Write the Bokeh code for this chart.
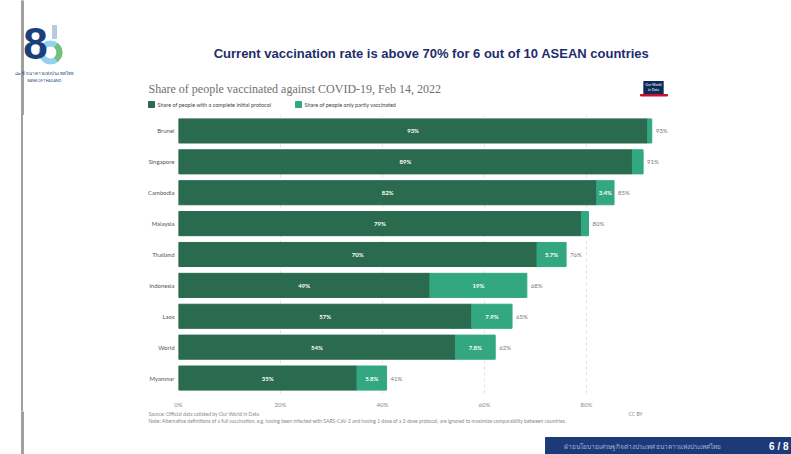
from bokeh.plotting import figure
from bokeh.layouts import column, row
from bokeh.models import (ColumnDataSource, FactorRange, Range1d, Label, Div,
                          PrintfTickFormatter, FixedTicker)
from bokeh.embed import file_html
from bokeh.resources import INLINE
from bokeh.core.properties import value

# ---------------- data ----------------
countries = ["Brunei", "Singapore", "Cambodia", "Malaysia", "Thailand",
             "Indonesia", "Laos", "World", "Myanmar"]
complete = [92.0, 89.0, 82.0, 79.0, 70.3, 49.3, 57.5, 54.3, 35.0]
partly = [0.8, 2.1, 3.4, 1.4, 5.7, 19.0, 7.9, 7.8, 5.8]
complete_labels = ["93%", "89%", "82%", "79%", "70%", "49%", "57%", "54%", "35%"]
partly_labels = ["", "", "3.4%", "", "5.7%", "19%", "7.9%", "7.8%", "5.8%"]
total_labels = ["93%", "91%", "85%", "80%", "76%", "68%", "65%", "62%", "41%"]
x_ticks = [0, 20, 40, 60, 80]

DARK = "#2a6a4f"
LIGHT = "#33a880"
LINE_GREY = "#a0a0a0"

# ---------------- geometry (canvas px) ----------------
W, H = 791, 454
HEAD_H = 115          # header strip height
FOOT_TOP = 411        # footer strip starts here
LEFT_W = 120          # left strip width beside the chart
FL, FR, FB = 178, 688, 393


def blank(width, height, x0, x1, y0, y1):
    f = figure(width=width, height=height, output_backend="svg",
               toolbar_location=None, x_axis_location=None, y_axis_location=None,
               x_range=Range1d(x0, x1), y_range=Range1d(y1, y0),
               min_border=0)
    f.outline_line_color = None
    f.grid.visible = False
    f.background_fill_color = "white"
    f.border_fill_color = "white"
    return f


def lab(f, text, cx, cy, size, color, font="Lato", style="normal",
        align="left", baseline="middle", **kw):
    f.add_layout(Label(x=cx, y=cy, text=text, text_font_size=size,
                       text_color=color, text_font=font, text_font_style=style,
                       text_align=align, text_baseline=baseline, **kw))


# ---------------- header ----------------
head = blank(W, HEAD_H, 0, W, 0, HEAD_H)
head.quad(left=[21], right=[23], top=[-50], bottom=[HEAD_H + 50], color=LINE_GREY)

# logo (Bank of Thailand, 80 years)
head.annulus(x=[50], y=[52], inner_radius=6.5, outer_radius=11.5,
             color="#8fcdee", alpha=0.95)
head.annular_wedge(x=[50], y=[52], inner_radius=6.5, outer_radius=11.5,
                   start_angle=-0.9, end_angle=0.9, color="#6fbf73", alpha=0.9)
lab(head, "8", 35, 43, "44px", "#1b3f78", font="Liberation Sans", style="bold",
    align="center")
head.quad(left=[52], right=[56], top=[25], bottom=[38], color="#a9bfdb", alpha=0.8)
lab(head, "๘๐ ปี ธนาคารแห่งประเทศไทย", 44, 73, "4.5px", "#1b3f78", align="center")
lab(head, "BANK OF THAILAND", 44, 80, "3.5px", "#1b3f78", align="center")

lab(head, "Current vaccination rate is above 70% for 6 out of 10 ASEAN countries",
    431, 53, "13px", "#1f2d6b", font="Liberation Sans", style="bold",
    align="center")

lab(head, "Share of people vaccinated against COVID-19, Feb 14, 2022", 148, 88,
    "12px", "#707070", font="Liberation Serif")

lab(head, "Our World\nin Data", 653, 87, "3.5px", "white", align="center",
    background_fill_color="#0b2a55", padding=2)
head.quad(left=[640], right=[667], top=[94], bottom=[95.5], color="#c8102e")

# legend
head.quad(left=[148, 295], right=[154, 301], top=[101, 101], bottom=[107, 107],
          color=[DARK, LIGHT])
lab(head, "Share of people with a complete initial protocol", 157, 104, "5.5px",
    "#444444")
lab(head, "Share of people only partly vaccinated", 304, 104, "5.5px", "#444444")

# ---------------- left strip (slide border line) ----------------
mid_h = FOOT_TOP - HEAD_H
left = Div(width=LEFT_W, height=mid_h,
           text=('<div style="position:absolute;left:21px;top:0;width:2px;'
                 f'height:{mid_h}px;background:{LINE_GREY}"></div>'),
           styles={"position": "relative", "margin": "0", "padding": "0"})

# ---------------- chart ----------------
src = ColumnDataSource(dict(
    country=countries,
    complete=complete,
    partly=partly,
    total=[c + q for c, q in zip(complete, partly)],
    mid_c=[c / 2 for c in complete],
    mid_p=[c + q / 2 for c, q in zip(complete, partly)],
    lab_c=complete_labels,
    lab_p=partly_labels,
    lab_t=total_labels,
))

p = figure(width=W - LEFT_W, height=mid_h, output_backend="svg",
           toolbar_location=None,
           x_range=(0, 100), y_range=FactorRange(factors=list(reversed(countries))),
           min_border_left=FL - LEFT_W, min_border_right=W - FR,
           min_border_top=0, min_border_bottom=FOOT_TOP - FB)
p.y_range.range_padding = 0
p.outline_line_color = None
p.background_fill_color = "white"
p.border_fill_color = "white"

p.hbar(y="country", left=0, right="complete", height=0.78, color=DARK, source=src)
p.hbar(y="country", left="complete", right="total", height=0.78, color=LIGHT,
       source=src)

p.text(x="mid_c", y="country", text="lab_c", source=src, text_color="white",
       text_font_size="6px", text_align="center", text_baseline="middle",
       text_font=value("Lato"), text_font_style="bold")
p.text(x="mid_p", y="country", text="lab_p", source=src, text_color="white",
       text_font_size="6px", text_align="center", text_baseline="middle",
       text_font=value("Lato"), text_font_style="bold")
p.text(x="total", y="country", text="lab_t", source=src, text_color="#777777",
       text_font_size="6px", text_align="left", text_baseline="middle",
       x_offset=4, text_font=value("Lato"))

p.xaxis.ticker = FixedTicker(ticks=x_ticks)
p.xaxis.formatter = PrintfTickFormatter(format="%d%%")
p.xaxis.axis_line_color = None
p.xaxis.major_tick_line_color = None
p.xaxis.minor_tick_line_color = None
p.xaxis.major_tick_out = 0
p.xaxis.major_tick_in = 0
p.xaxis.major_label_text_font_size = "6px"
p.xaxis.major_label_text_color = "#888888"
p.xaxis.major_label_text_font = "Lato"
p.xaxis.major_label_standoff = 7

p.yaxis.axis_line_color = None
p.yaxis.major_tick_line_color = None
p.yaxis.minor_tick_line_color = None
p.yaxis.major_tick_out = 0
p.yaxis.major_tick_in = 0
p.yaxis.major_label_text_font_size = "6px"
p.yaxis.major_label_text_color = "#555555"
p.yaxis.major_label_text_font = "Lato"
p.yaxis.major_label_standoff = 4

p.ygrid.grid_line_color = None
p.xgrid.grid_line_color = "#e2e2e2"
p.xgrid.grid_line_dash = "3 3"

# ---------------- footer ----------------
foot = blank(W, H - FOOT_TOP, 0, W, FOOT_TOP, H)
foot.quad(left=[21], right=[23], top=[FOOT_TOP - 50], bottom=[H + 50],
          color=LINE_GREY)
lab(foot, "Source: Official data collated by Our World in Data", 148, 413.5,
    "5px", "#888888")
lab(foot, "Note: Alternative definitions of a full vaccination, e.g. having been "
    "infected with SARS-CoV-2 and having 1 dose of a 2-dose protocol, are ignored "
    "to maximize comparability between countries.", 148, 420, "5px", "#888888")
lab(foot, "CC BY", 628, 413.5, "5px", "#888888")
foot.quad(left=[545], right=[W], top=[437], bottom=[H], color="#1c3a78")
lab(foot, "ฝ่ายนโยบายเศรษฐกิจต่างประเทศ ธนาคารแห่งประเทศไทย", 563, 446, "6.5px",
    "#9fb6dd")
lab(foot, "6 / 8", 788, 446, "10px", "white", font="Liberation Sans",
    style="bold", align="right")

layout = column(head, row(left, p), foot)
open("out.html", "w").write(file_html(layout, INLINE))
